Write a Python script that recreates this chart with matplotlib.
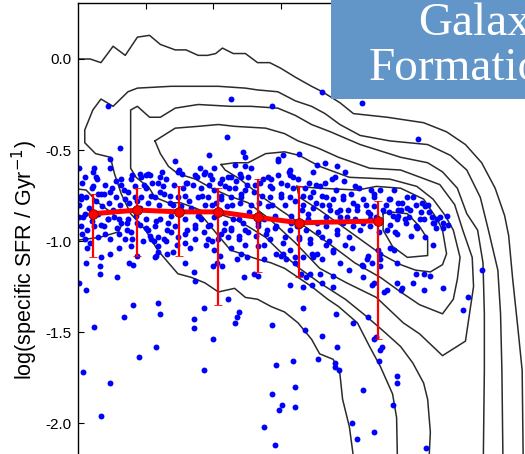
import matplotlib
matplotlib.use("Agg")
import matplotlib.pyplot as plt
from matplotlib.patches import Rectangle

plt.rcParams['font.family'] = ['Liberation Sans', 'DejaVu Sans']
plt.rcParams['axes.unicode_minus'] = False

# binned medians with percentile ranges (red)
bin_logm = [8.61, 8.94, 9.25, 9.54, 9.83, 10.14, 10.72]
bin_ssfr = [-0.85, -0.83, -0.84, -0.84, -0.87, -0.90, -0.89]
bin_hi = [-0.74, -0.71, -0.70, -0.71, -0.66, -0.70, -0.78]
bin_lo = [-1.09, -1.08, -1.08, -1.35, -1.17, -1.20, -1.54]

# individual galaxies (blue)
gal_pts = [
    (8.56,-1.12),(8.66,-1.14),(8.66,-1.18),(8.67,-1.09),(8.79,-1.20),(8.51,-1.23),(8.56,-1.27),(8.74,-1.07),(8.88,-1.12),(8.91,-1.13),
    (8.94,-1.08),(9.08,-1.08),(9.16,-1.07),(9.09,-1.06),(9.29,-1.12),(9.36,-1.17),(9.37,-1.22),(9.50,-1.14),(9.53,-1.12),(9.57,-1.14),
    (9.68,-1.10),(9.73,-1.20),(9.75,-1.09),(9.80,-1.18),(9.83,-1.19),(9.88,-1.10),(10.00,-1.08),(10.02,-1.07),(10.11,-1.09),(10.11,-1.12),
    (10.15,-1.18),(10.19,-1.20),(10.07,-1.24),(10.23,-1.24),(10.23,-1.07),(10.24,-1.09),(10.29,-1.18),(10.31,-1.23),(10.31,-1.10),(10.39,-1.19),
    (10.39,-1.06),(8.91,-1.35),(9.09,-1.34),(9.11,-1.40),(8.84,-1.42),(8.62,-1.47),(9.43,-1.37),(9.36,-1.43),(9.36,-1.48),(9.61,-1.32),
    (9.69,-1.39),(9.68,-1.42),(9.66,-1.45),(9.94,-1.46),(10.17,-1.37),(10.18,-1.49),(10.31,-1.52),(10.41,-1.40),(9.50,-1.54),(9.08,-1.58),
    (8.95,-1.64),(8.54,-1.72),(9.43,-1.71),(8.74,-1.78),(9.97,-1.68),(10.09,-1.66),(10.28,-1.65),(10.40,-1.67),(10.40,-1.69),(10.42,-1.58),
    (10.11,-1.80),(9.94,-1.84),(10.01,-1.90),(9.99,-1.93),(10.11,-1.91),(8.67,-1.96),(9.88,-2.02),(9.96,-2.12),
    (10.61,-1.14),(10.68,-1.12),(10.74,-1.14),(10.86,-1.12),(11.00,-1.18),(11.06,-1.18),(11.11,-1.19),(10.98,-1.23),(10.90,-1.26),(11.06,-1.27),
    (11.20,-1.26),(10.77,-1.28),(10.68,-1.24),(10.65,-1.42),(10.69,-1.54),(10.71,-1.53),(10.74,-1.60),(10.73,-1.66),(10.86,-1.74),(10.86,-1.78),
    (10.61,-1.82),(10.83,-1.90),(10.53,-2.00),(10.69,-2.05),(10.57,-2.09),(11.08,-2.14),(11.49,-1.16),(11.39,-1.31),(11.35,-1.38),(10.43,-1.71),
    (11.02,-0.44),(10.14,-0.52),(10.27,-0.58),(10.33,-0.57),(10.42,-0.59),(10.24,-0.62),(10.38,-0.66),(10.48,-0.62),(10.40,-0.65),(10.55,-0.70),
    (10.07,-0.64),(10.09,-0.65),(10.18,-0.71),(10.26,-0.69),(10.29,-0.70),(10.31,-0.75),(10.34,-0.76),(10.39,-0.77),(10.46,-0.77),(10.31,-0.80),
    (10.22,-0.76),(10.17,-0.80),(10.24,-0.82),(10.37,-0.83),(10.44,-0.83),(10.50,-0.83),(10.57,-0.81),(10.65,-0.84),(10.69,-0.81),(10.74,-0.72),
    (10.69,-0.76),(10.80,-0.77),(10.87,-0.79),(10.94,-0.76),(10.98,-0.76),(11.05,-0.79),(11.09,-0.80),(10.94,-0.82),(10.89,-0.83),(10.80,-0.84),
    (10.83,-0.86),(10.87,-0.86),(10.92,-0.88),(10.86,-0.88),(10.81,-0.91),(10.85,-0.95),(11.03,-0.88),(11.06,-0.88),(11.12,-0.87),(11.13,-0.90),
    (11.16,-0.88),(11.20,-0.90),(11.14,-0.90),(11.00,-0.92),(11.07,-0.98),(11.13,-1.02),(10.66,-0.88),(10.61,-0.90),(10.54,-0.92),(10.46,-0.90),
    (10.42,-0.94),(10.34,-0.92),(10.27,-0.90),(10.20,-0.88),(10.12,-0.92),(10.14,-0.98),(10.22,-0.99),(10.31,-0.98),(10.34,-1.02),(10.39,-1.05),
    (10.53,-1.04),(10.60,-1.13),(10.65,-1.08),(10.72,-1.05),(10.74,-1.10),(10.81,-1.04),(10.69,-1.23),(11.07,-0.81),(10.96,-0.83),(10.93,-0.90),
    (11.01,-0.93),(11.18,-0.87),(11.20,-0.93),
    (10.60,-0.24),(8.72,-0.26),(9.63,-0.22),(9.94,-0.26),(10.31,-0.18),(9.60,-0.43),(8.81,-0.49),(8.74,-0.55),(9.22,-0.56),(9.47,-0.53),
    (9.72,-0.51),(9.74,-0.54),(9.25,-0.61),(9.51,-0.60),(9.74,-0.59),(9.98,-0.56),(10.02,-0.53),(10.07,-0.61),(8.51,-0.60),
    (8.62,-0.60),(8.63,-0.65),(8.90,-0.64),(8.96,-0.63),(9.00,-0.64),(9.02,-0.63),(9.11,-0.65),(9.37,-0.64),(9.43,-0.63),(9.48,-0.64),
    (9.61,-0.65),(9.71,-0.65),(9.76,-0.65),(9.91,-0.65),(9.93,-0.66),
    (8.55,-0.65),(8.70,-0.69),(8.82,-0.66),(8.61,-0.70),(8.56,-0.76),(8.52,-0.77),(8.65,-0.74),(8.74,-0.73),(8.78,-0.76),(8.85,-0.77),
    (8.92,-0.76),(8.97,-0.76),(9.04,-0.75),(9.11,-0.73),(9.18,-0.75),(9.24,-0.76),(9.31,-0.68),(9.49,-0.66),(9.51,-0.72),(9.59,-0.70),
    (9.66,-0.71),(9.71,-0.74),(9.74,-0.72),(9.39,-0.76),(9.46,-0.76),(9.56,-0.77),(9.63,-0.76),(8.55,-0.85),(8.51,-0.87),(8.52,-0.92),
    (8.57,-0.94),(8.67,-0.91),(8.72,-0.88),(8.77,-0.87),(8.82,-0.90),(8.87,-0.88),(8.94,-0.90),(9.00,-0.88),(9.02,-0.94),(9.07,-0.92),
    (9.11,-0.88),(9.17,-0.90),(9.19,-0.86),(9.29,-0.88),(9.31,-0.94),(9.37,-0.91),(9.41,-0.88),(9.46,-0.92),(9.51,-0.87),(9.59,-0.90),
    (9.63,-0.94),(9.69,-0.88),(9.74,-0.94),(8.55,-0.99),(8.65,-0.98),(8.74,-0.99),(8.80,-0.96),(8.85,-0.99),(9.04,-0.99),(9.09,-0.98),
    (9.14,-0.99),(9.24,-0.98),(9.29,-1.01),(9.46,-0.99),(9.54,-0.99),(9.61,-0.98),(9.69,-0.99),(9.74,-1.02),(8.57,-1.04),(8.80,-1.04),
    (8.89,-1.03),(9.07,-1.09),(9.37,-0.99),(9.45,-1.02),(9.51,-1.05),(9.63,-1.04),(9.71,-1.07),
    (10.00,-0.68),(9.92,-0.70),(9.85,-0.68),(9.81,-0.69),(9.70,-0.63),(9.63,-0.65),(9.57,-0.66),(9.92,-0.76),(10.00,-0.74),(10.07,-0.76),
    (10.17,-0.75),(10.24,-0.73),(10.46,-0.75),(10.54,-0.79),(10.61,-0.77),(10.69,-0.74),(10.81,-0.77),(10.87,-0.83),(10.76,-0.83),(10.66,-0.85),
    (10.57,-0.83),(10.49,-0.87),(10.42,-0.84),(10.34,-0.87),(10.20,-0.85),(10.14,-0.92),(10.07,-0.94),(9.97,-0.92),(9.90,-0.94),(9.83,-0.92),
    (9.92,-0.99),(10.02,-1.01),(10.14,-0.99),(10.22,-1.01),(10.42,-0.96),(10.51,-0.98),(10.59,-0.94),(10.66,-0.92),(10.79,-0.94),(10.86,-0.96),
    (9.83,-1.03),(9.97,-1.07),(10.07,-1.05),(10.17,-1.09),(10.27,-1.07),(10.44,-1.12),(10.64,-1.10),(10.74,-1.07),(10.84,-1.05),(10.51,-1.16),
    (10.61,-1.20),(10.79,-1.27),(10.86,-1.23),(10.22,-1.18),(10.39,-1.25),(10.17,-1.25),(10.54,-1.45),(10.75,-1.58),(10.89,-1.27),
    (8.61,-0.62),(8.74,-0.60),(8.82,-0.69),(8.89,-0.66),(8.97,-0.65),(9.03,-0.64),(9.09,-0.68),(9.15,-0.66),(9.24,-0.62),(9.30,-0.68),
    (9.38,-0.65),(9.44,-0.62),(9.98,-0.55),(10.06,-0.62),(8.51,-0.80),(8.54,-0.87),(8.65,-0.85),(8.69,-0.92),(8.72,-0.88),(8.79,-0.93),
    (8.86,-0.90),(8.89,-0.95),(8.96,-0.91),(9.00,-0.93),(9.03,-0.97),(9.09,-1.03),(9.15,-1.00),(9.23,-1.02),(9.19,-0.95),(9.29,-0.96),
    (9.37,-0.93),(9.43,-0.95),(9.49,-1.00),(9.56,-0.96),(9.63,-0.93),(9.69,-0.97),(9.76,-0.95),(9.83,-0.90),(9.89,-0.96),(9.96,-0.93),
    (10.03,-0.98),(10.08,-0.90),(8.52,-0.75),(8.60,-0.71),(8.67,-0.74),(8.75,-0.71),(8.87,-0.73),(8.94,-0.78),(9.00,-0.71),(9.07,-0.76),
    (9.14,-0.74),(9.20,-0.80),(9.29,-0.75),(9.34,-0.82),(9.42,-0.75),(9.49,-0.80),(9.56,-0.75),(9.64,-0.80),(9.71,-0.76),(9.78,-0.80),
    (9.86,-0.75),(9.94,-0.80),(10.00,-0.76),(10.09,-0.71),
    (8.53,-0.68),(8.58,-0.82),(8.60,-0.89),(8.63,-0.78),(8.68,-0.81),(8.70,-0.96),(8.73,-0.79),(8.76,-0.83),(8.78,-0.67),(8.81,-0.80),
    (8.84,-0.72),(8.86,-0.94),(8.88,-0.79),(8.92,-0.70),(8.93,-0.86),(8.96,-0.82),(8.98,-1.00),(8.53,-0.96),(8.59,-1.01),(8.64,-0.66),
    (8.69,-0.74),(8.90,-0.99),(8.99,-0.69),(8.62,-0.92),(8.80,-0.88),
    (9.02,-0.79),(9.05,-0.68),(9.08,-0.89),(9.10,-0.80),(9.13,-0.70),(9.16,-0.94),(9.18,-0.79),(9.21,-0.69),(9.22,-0.92),(9.26,-0.81),
    (9.28,-0.71),(9.32,-0.78),(9.33,-1.04),(9.35,-0.69),(9.39,-0.86),(9.41,-0.71),(9.44,-0.80),(9.47,-0.69),(9.48,-0.91),(9.06,-1.00),
    (9.12,-0.62),(9.27,-0.63),(9.40,-0.60),(9.20,-1.06),
    (9.52,-0.79),(9.55,-0.68),(9.58,-0.94),(9.60,-0.81),(9.62,-0.71),(9.65,-0.88),(9.67,-0.67),(9.70,-0.79),(9.72,-0.90),(9.75,-0.69),
    (9.77,-0.84),(9.80,-0.73),(9.82,-0.97),(9.84,-0.79),(9.87,-0.66),(9.88,-0.88),(9.91,-0.81),(9.94,-0.71),(9.96,-0.86),(9.98,-0.64),
    (9.55,-1.08),(9.78,-0.60),(9.66,-0.58),(9.88,-1.02),
    (10.03,-0.80),(10.05,-0.69),(10.08,-0.86),(10.11,-0.78),(10.13,-0.66),(10.16,-0.83),(10.19,-0.94),(10.21,-0.68),(10.26,-0.79),(10.28,-0.95),
    (10.33,-0.68),(10.36,-0.80),(10.41,-0.72),(10.44,-0.87),(10.47,-0.67),(10.52,-0.74),(10.55,-0.88),(10.58,-0.71),(10.04,-1.10),(10.36,-1.00),
    (10.48,-1.02),
    (10.63,-0.80),(10.67,-0.72),(10.71,-0.87),(10.73,-0.95),(10.78,-0.80),(10.84,-0.72),(10.90,-0.79),(10.95,-0.87),(11.00,-0.80),(11.04,-0.84),
    (11.10,-0.84),(11.15,-0.93),(11.23,-0.86),(11.24,-0.91),(10.97,-0.97),
]
gal_logm = [p[0] for p in gal_pts]
gal_ssfr = [p[1] for p in gal_pts]

# density contour lines of the comparison sample (black)
c1_x = [8.45, 8.59, 8.67, 8.76, 8.85, 8.94, 9.03, 9.11, 9.22, 9.30, 9.39, 9.46, 9.52, 9.57, 9.65, 9.74, 9.83, 9.92,
        10.00, 10.11, 10.23, 10.31, 10.44, 10.54, 10.79, 11.06, 11.23, 11.37, 11.49, 11.59, 11.66, 11.69, 11.72, 11.76, 11.79, 11.80]
c1_y = [0.00, 0.00, -0.02, 0.07, 0.02, 0.12, 0.13, 0.08, 0.05, 0.05, 0.02, 0.02, 0.03, 0.06, 0.03, 0.03, -0.02, -0.02,
        -0.05, -0.10, -0.15, -0.18, -0.24, -0.30, -0.32, -0.35, -0.40, -0.47, -0.57, -0.71, -0.86, -0.97, -1.21, -1.49, -1.71, -2.35]

c2_x = [10.57, 10.51, 10.46, 10.44, 10.39, 10.29, 10.23, 10.13, 10.03, 9.93, 9.83, 9.74, 9.66, 9.54, 9.44, 9.34, 9.24, 9.17,
        9.09, 9.00, 8.89, 8.82, 8.77, 8.74, 8.63, 8.55, 8.55, 8.61, 8.67, 8.76, 8.87, 8.94, 9.19, 9.39, 9.54, 9.74, 9.83, 9.98,
        10.11, 10.23, 10.33, 10.44, 10.59, 10.81, 11.09, 11.26, 11.38, 11.48, 11.54, 11.61, 11.63, 11.64, 11.65]
c2_y = [-2.35, -2.02, -1.87, -1.73, -1.65, -1.62, -1.54, -1.45, -1.39, -1.36, -1.32, -1.31, -1.26, -1.28, -1.23, -1.20, -1.18, -1.12,
        -1.05, -0.94, -0.85, -0.74, -0.63, -0.54, -0.52, -0.46, -0.39, -0.28, -0.22, -0.26, -0.18, -0.16, -0.15, -0.15, -0.15, -0.16, -0.17, -0.18,
        -0.23, -0.26, -0.30, -0.36, -0.42, -0.45, -0.47, -0.53, -0.61, -0.76, -0.94, -1.16, -1.40, -1.71, -2.35]

c3_x = [10.87, 10.86, 10.83, 10.74, 10.66, 10.57, 10.43, 10.35, 10.23, 10.03, 9.93, 9.83, 9.63, 9.55, 9.46, 9.37, 9.26, 9.17,
        9.07, 9.02, 8.98, 8.93, 8.89, 8.89, 8.89, 8.94, 9.03, 9.11, 9.22, 9.39, 9.63, 9.78, 9.98, 10.11, 10.23, 10.37, 10.59, 10.89,
        11.09, 11.20, 11.31, 11.38, 11.46, 11.50, 11.51, 11.51, 11.50]
c3_y = [-2.35, -1.97, -1.84, -1.69, -1.58, -1.45, -1.36, -1.32, -1.25, -1.15, -1.12, -1.10, -1.05, -0.98, -0.90, -0.82, -0.79, -0.79,
        -0.76, -0.70, -0.68, -0.65, -0.60, -0.39, -0.28, -0.26, -0.32, -0.32, -0.27, -0.25, -0.26, -0.26, -0.27, -0.31, -0.36, -0.40, -0.47, -0.54,
        -0.57, -0.62, -0.71, -0.85, -0.94, -1.12, -1.40, -1.71, -2.35]

c4_x = [9.37, 9.44, 9.54, 9.66, 9.76, 9.89, 10.00, 10.14, 10.29, 10.48, 10.63, 10.77, 10.89, 10.98, 11.06, 11.09, 11.11, 11.09]
c4_y = [-0.82, -0.84, -0.85, -0.88, -0.92, -0.98, -1.06, -1.15, -1.23, -1.32, -1.41, -1.50, -1.58, -1.67, -1.78, -1.87, -2.05, -2.35]

c5_x = [9.07, 9.22, 9.39, 9.54, 9.66, 9.89, 10.03, 10.13, 10.28, 10.43, 10.66, 10.89, 11.18, 11.29, 11.35, 11.42, 11.43, 11.40,
        11.37, 11.20, 11.03, 10.91, 10.71, 10.49, 10.29, 10.11, 9.92, 9.76, 9.61, 9.49, 9.37, 9.24, 9.17, 9.11, 9.07]
c5_y = [-0.45, -0.38, -0.37, -0.36, -0.37, -0.38, -0.41, -0.45, -0.49, -0.54, -0.60, -0.61, -0.69, -0.80, -0.94, -1.09, -1.25, -1.40,
        -1.55, -1.63, -1.51, -1.45, -1.31, -1.23, -1.15, -1.01, -0.88, -0.79, -0.75, -0.71, -0.66, -0.63, -0.59, -0.52, -0.45]

c6_x = [9.56, 9.66, 9.76, 9.89, 10.03, 10.14, 10.29, 10.51, 10.81, 11.01, 11.13, 11.22, 11.28, 11.33, 11.31, 11.28, 11.20, 11.03,
        10.89, 10.74, 10.55, 10.37, 10.18, 10.00, 9.85, 9.70, 9.59, 9.56]
c6_y = [-0.58, -0.57, -0.57, -0.52, -0.51, -0.53, -0.59, -0.65, -0.66, -0.70, -0.77, -0.86, -0.94, -1.09, -1.21, -1.32, -1.40, -1.35,
        -1.28, -1.20, -1.12, -1.02, -0.92, -0.83, -0.75, -0.66, -0.61, -0.58]

c7_x = [10.12, 10.29, 10.57, 10.71, 10.89, 11.06, 11.16, 11.20, 11.23, 11.20, 11.11, 11.00, 10.89, 10.74, 10.59, 10.44, 10.29, 10.14, 10.12]
c7_y = [-0.70, -0.71, -0.72, -0.70, -0.71, -0.77, -0.88, -0.94, -1.07, -1.13, -1.17, -1.16, -1.13, -1.07, -0.99, -0.91, -0.83, -0.76, -0.70]

c8_x = [10.76, 10.81, 10.94, 11.03, 11.09, 11.09, 10.94, 10.83, 10.76, 10.76]
c8_y = [-0.85, -0.84, -0.85, -0.92, -0.99, -1.08, -1.09, -1.03, -0.94, -0.85]

c9_x = [8.45, 8.56, 8.65, 8.74, 8.83, 8.80, 8.66, 8.45]
c9_y = [-0.71, -0.72, -0.79, -0.84, -0.90, -0.95, -0.98, -1.00]

contour_lines = [(c1_x, c1_y), (c2_x, c2_y), (c3_x, c3_y), (c4_x, c4_y), (c5_x, c5_y),
                 (c6_x, c6_y), (c7_x, c7_y), (c8_x, c8_y), (c9_x, c9_y)]

fig = plt.figure(figsize=(5.25, 4.54), dpi=100)
ax = fig.add_axes([78/525, -0.05, 0.9, 1.0434])

for cx, cy in contour_lines:
    ax.plot(cx, cy, color='#2b2b2b', lw=1.1, zorder=1)

ax.scatter(gal_logm, gal_ssfr, s=18, color='#0000ff', lw=0, zorder=2)

err_lo = [m - l for m, l in zip(bin_ssfr, bin_lo)]
err_hi = [h - m for m, h in zip(bin_ssfr, bin_hi)]
ax.errorbar(bin_logm, bin_ssfr, yerr=[err_lo, err_hi], fmt='-o', color='red', lw=3.6,
            ms=7, mfc='red', mec='#800000', mew=0.6, ecolor='red', elinewidth=1.6,
            capsize=2.6, capthick=0.8, zorder=4)

ax.set_xlim(8.5, 12.0)
ax.set_ylim(-2.295, 0.3077)
ax.set_xticks([9.0, 9.5, 10.0, 10.5, 11.0, 11.5])
ax.set_yticks([0.0, -0.5, -1.0, -1.5, -2.0])
ax.yaxis.set_major_formatter('{x:.1f}')
ax.tick_params(direction='in', length=4.3, width=0.8, top=True, right=True,
               labelsize=11, pad=4.5, labelbottom=False)
for sp in ax.spines.values():
    sp.set_linewidth(1.0)

fig.text(25/525, 1 - 260/454, 'log(specific SFR / Gyr$^{-1}$)', rotation=90,
         ha='center', va='center', fontsize=15.5)

# title box in the corner (the slide cuts it at the right edge)
fig.add_artist(Rectangle((331/525, 1 - 99/454), 0.5, 0.3, transform=fig.transFigure,
                         facecolor='#6396c8', edgecolor='none', zorder=5))
fig.text(418/525, 1 - 35/454, 'Galaxy', ha='left', va='baseline', color='white',
         fontsize=34, family='Liberation Serif', zorder=6)
fig.text(369/525, 1 - 80/454, 'Formation', ha='left', va='baseline', color='white',
         fontsize=34, family='Liberation Serif', zorder=6)

fig.savefig('out.png', dpi=100)
